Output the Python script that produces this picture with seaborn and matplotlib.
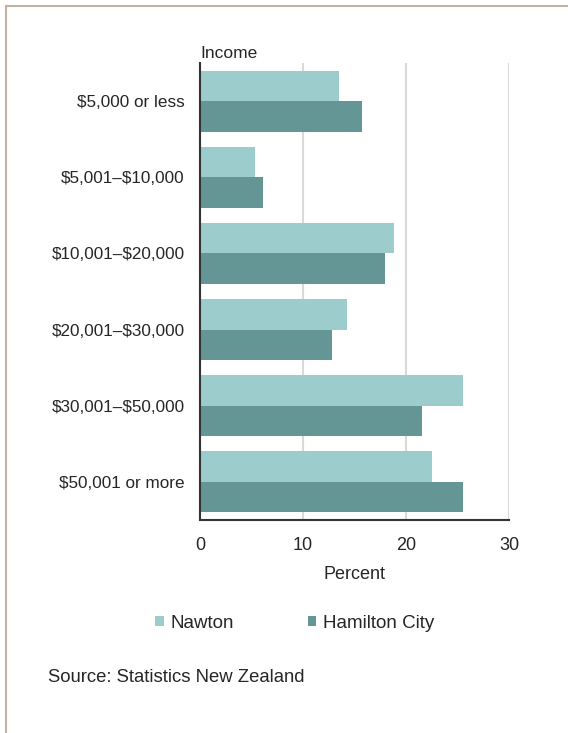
import matplotlib
matplotlib.use("Agg")
import matplotlib.pyplot as plt
import seaborn as sns
import pandas as pd
from matplotlib.lines import Line2D
from matplotlib.patches import Patch

categories = ["$5,000 or less", "$5,001–$10,000", "$10,001–$20,000",
              "$20,001–$30,000", "$30,001–$50,000", "$50,001 or more"]
nawton = [13.5, 5.3, 18.8, 14.3, 25.5, 22.5]
hamilton = [15.7, 6.1, 18.0, 12.8, 21.6, 25.5]
series = ["Nawton", "Hamilton City"]
colors = ["#9CCCCC", "#649696"]
xticks = [0, 10, 20, 30]

df = pd.DataFrame({
    "Income": categories * 2,
    "Percent": nawton + hamilton,
    "Area": [series[0]] * len(categories) + [series[1]] * len(categories),
})

sns.set_theme(style="white")
plt.rcParams["font.family"] = ["Liberation Sans", "DejaVu Sans"]
text_color = "#262626"

fig = plt.figure(figsize=(5.68, 7.33), dpi=100)
ax = fig.add_axes([200 / 568, 1 - 520 / 733, 309 / 568, 457 / 733])

sns.barplot(data=df, y="Income", x="Percent", hue="Area", order=categories,
            hue_order=series, palette=colors, width=0.8, ax=ax,
            orient="h", legend=False, saturation=1, linewidth=0)

ax.set_xlim(0, 30)
ax.set_xticks(xticks)
ax.set_xticklabels([str(t) for t in xticks], fontsize=13, color=text_color)
ax.set_yticks(range(len(categories)))
ax.set_yticklabels([c.replace("$", r"\$") for c in categories], fontsize=12.3,
                   color=text_color)
ax.tick_params(axis="y", length=0, pad=11)
ax.tick_params(axis="x", length=0, pad=12)
ax.grid(axis="x", color="#D9D9D9", linewidth=1.5)
ax.set_axisbelow(True)
for s in ["top", "right"]:
    ax.spines[s].set_visible(False)
ax.spines["left"].set_color("#333333")
ax.spines["bottom"].set_color("#333333")
ax.spines["left"].set_linewidth(1.5)
ax.spines["bottom"].set_linewidth(1.5)
ax.set_ylabel("")
ax.set_xlabel("Percent", fontsize=13, color=text_color, labelpad=9)

fig.text(200 / 568, 1 - 53 / 733, "Income", fontsize=12.5, color=text_color,
         ha="left", va="center")

handles = [Patch(facecolor=c, edgecolor="none") for c in colors]
fig.legend(handles, series, loc="center left", bbox_to_anchor=(142 / 568, 1 - 623 / 733),
           ncol=2, frameon=False, fontsize=13.5, handlelength=0.45, handleheight=0.45,
           handletextpad=0.35, columnspacing=3.95, labelcolor=text_color,
           borderpad=0.2)

fig.text(48 / 568, 1 - 678 / 733, "Source: Statistics New Zealand", fontsize=13.3,
         color=text_color, ha="left", va="center")

border = "#C2B2A2"
fig.add_artist(Line2D([5.5 / 568, 1], [1 - 5.5 / 733, 1 - 5.5 / 733],
                      transform=fig.transFigure, color=border, linewidth=1.5))
fig.add_artist(Line2D([5.5 / 568, 5.5 / 568], [0, 1 - 5.5 / 733],
                      transform=fig.transFigure, color=border, linewidth=1.5))

fig.savefig("out.png", dpi=100, facecolor="white")
